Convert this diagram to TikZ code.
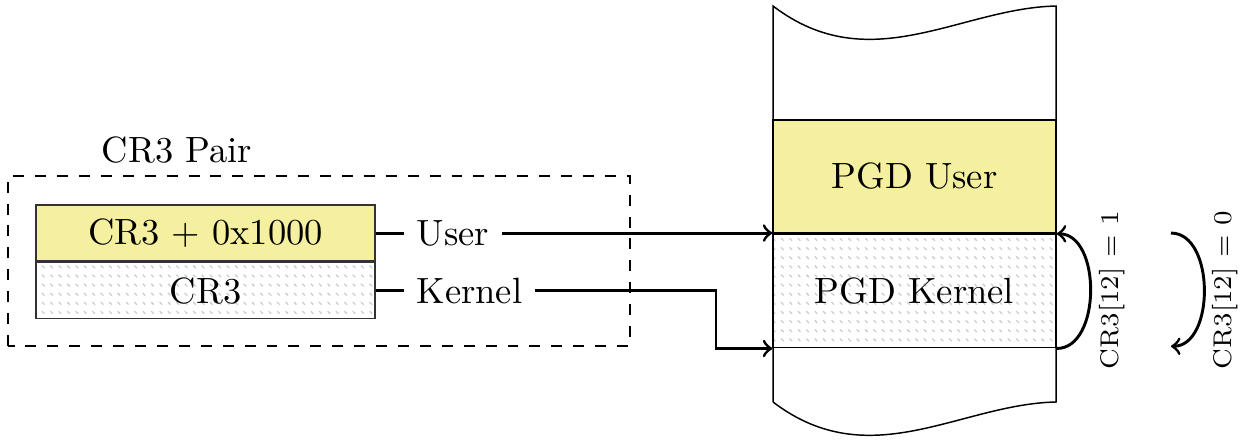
\documentclass[tikz,border=0pt]{standalone}
\usepackage{tikz}
\usetikzlibrary{arrows,positioning,patterns}
\definecolor{userfill}{RGB}{245,239,160}
\pgfdeclarepatternformonly{softdash}{\pgfqpoint{-1pt}{-1pt}}{\pgfqpoint{3pt}{3pt}}{\pgfqpoint{2.3pt}{2.5pt}}{%
  \pgfsetlinewidth{0.35pt}%
  \pgfpathmoveto{\pgfqpoint{0pt}{1.1pt}}%
  \pgfpathlineto{\pgfqpoint{0.7pt}{0.4pt}}%
  \pgfusepath{stroke}}
\tikzstyle{regbox}=[draw=black!80,thin,minimum width=3.263cm,minimum height=0.54cm,inner sep=0pt]
\tikzstyle{pgdbox}=[draw,thin,minimum width=2.724cm,minimum height=1.09cm,inner sep=0pt]
\tikzstyle{kernelfill}=[pattern=softdash,pattern color=black!20]
\tikzstyle{link} = [draw,thick]
\tikzstyle{flag} = [font=\scriptsize,rotate=90]

\begin{document}
\begin{tikzpicture}[>=to]
			\useasboundingbox (0,0) rectangle (11.944,4.264);

			% First we draw the CR3 pair
			\draw[dashed] (0.077,0.934) rectangle (6.064,2.570);
			\node (pairlabel) at (1.704,2.820) {CR3 Pair};
			\node[regbox, fill=userfill] (cr3user) at (1.978,2.021) {CR3 + 0x1000};
			\node[regbox, kernelfill, below=0pt of cr3user] (cr3kernel) {CR3};
			\node[right=0.27cm of cr3user] (usertext) {User};
			\node[right=0.27cm of cr3kernel] (kerneltext) {Kernel};

			% Then the page table column
			\node[pgdbox, fill=userfill] (pgduser) at (8.802,2.566) {PGD User};
			\node[pgdbox, kernelfill, below=0pt of pgduser] (pgdkernel) {PGD Kernel};
			\draw (7.440,0.395) -- (7.440,4.206)
				.. controls (8.373,3.494) and (9.240,4.187) .. (10.164,4.206)
				-- (10.164,0.395)
				.. controls (9.240,0.376) and (8.373,-0.317) .. (7.440,0.395);

			% Connect registers with the tables
			\foreach \reg/\txt in {cr3user/usertext, cr3kernel/kerneltext}
			\path[link] (\reg) -- (\txt);

			\coordinate (kbend) at (6.891,1.5);
			\path[link,->] (usertext.east) -- (usertext.east -| pgdkernel.north west);
			\path[link,->] (kerneltext.east) -- (kerneltext.east -| kbend) |- (pgdkernel.south west);

			% Switching arrows and their labels
			\coordinate (swtop) at (11.27,2.021);
			\coordinate (swbot) at (11.27,0.931);
			\path[link,->] (pgdkernel.south east) to[out=0,in=0] (pgdkernel.north east);
			\path[link,->] (swtop) to[out=0,in=0] (swbot);
			\node[flag] (setlabel) at (10.703,1.473) {CR3[12] = 1};
			\node[flag] (clearlabel) at (11.790,1.473) {CR3[12] = 0};

		\end{tikzpicture}
\end{document}
